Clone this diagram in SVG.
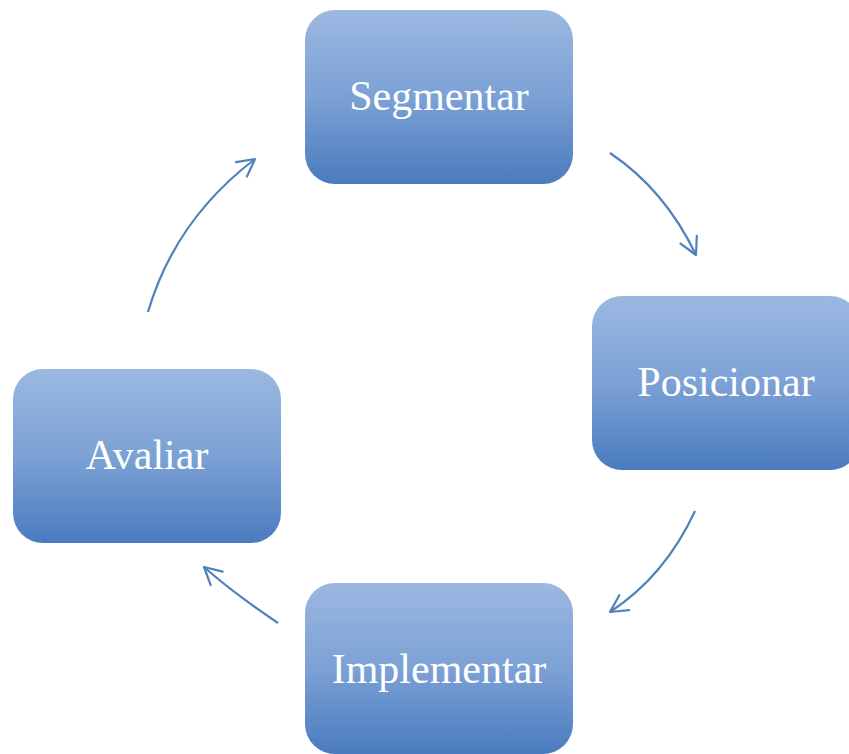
<svg xmlns="http://www.w3.org/2000/svg" width="849" height="754" viewBox="0 0 849 754">
<defs>
<linearGradient id="g" x1="0" y1="0" x2="0" y2="1">
<stop offset="0" stop-color="#9bb8e0"/>
<stop offset="0.5" stop-color="#7ca1d5"/>
<stop offset="1" stop-color="#4a7bbf"/>
</linearGradient>
<marker id="ah" markerUnits="userSpaceOnUse" markerWidth="30" markerHeight="30" viewBox="-20 -15 30 30" refX="0" refY="0" orient="auto">
<path d="M-17,-9 L0,0 L-17,9" fill="none" stroke="#4f81bd" stroke-width="2.2" stroke-linecap="round" stroke-linejoin="round"/>
</marker>
<style>
.box{fill:url(#g);}
.lbl{font-family:"Liberation Serif","Times New Roman",serif;font-size:42px;fill:#ffffff;text-anchor:middle;}
.con{fill:none;stroke:#4f81bd;stroke-width:2.2;marker-end:url(#ah);}
</style>
</defs>
<g id="connectors">
<path class="con" d="M610,153 Q665,190 696,255"/>
<path class="con" d="M695,511 Q665,576 610,612"/>
<path class="con" d="M278,623 Q232,592 204,567"/>
<path class="con" d="M148,312 Q175,220 255,159"/>
</g>
<g id="segmentar">
<rect class="box" x="305" y="10" width="268" height="174" rx="30"/>
<text class="lbl" x="439" y="110">Segmentar</text>
</g>
<g id="posicionar">
<rect class="box" x="592" y="296" width="268" height="174" rx="30"/>
<text class="lbl" x="726" y="396">Posicionar</text>
</g>
<g id="implementar">
<rect class="box" x="305" y="583" width="268" height="171" rx="30"/>
<text class="lbl" x="439" y="683">Implementar</text>
</g>
<g id="avaliar">
<rect class="box" x="13" y="369" width="268" height="174" rx="30"/>
<text class="lbl" x="147" y="469">Avaliar</text>
</g>
</svg>
